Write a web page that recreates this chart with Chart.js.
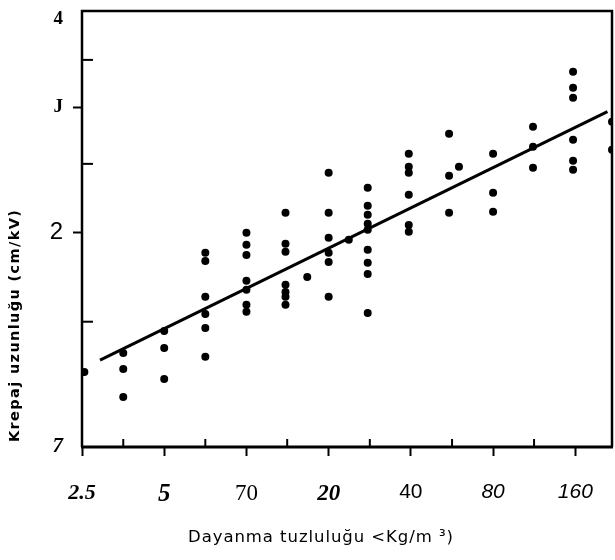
<!DOCTYPE html>
<html><head><meta charset="utf-8">
<script src="https://cdn.jsdelivr.net/npm/chart.js@4"></script>
<style>html,body{margin:0;padding:0;background:#fff}#wrap{width:615px;height:560px}</style>
</head><body><div id="wrap"><canvas id="c" width="615" height="560"></canvas></div>
<script>
// ---- data (log-log axes) ----
const pointX = [
  2.55,
  3.54, 3.54, 3.54,
  5, 5, 5,
  7.07, 7.07, 7.07, 7.07, 7.07, 7.07,
  10, 10, 10, 10, 10, 10, 10,
  13.9, 13.9, 13.9, 13.9, 13.9, 13.9, 13.9,
  16.7,
  20, 20, 20, 20, 20, 20,
  23.7,
  27.8, 27.8, 27.8, 27.8, 27.8, 27.8, 27.8, 27.8, 27.8,
  39.3, 39.3, 39.3, 39.3, 39.3, 39.3,
  55.2, 55.2, 55.2,
  60,
  80, 80, 80,
  112, 112, 112,
  157, 157, 157, 157, 157, 157,
  218, 218
];
const pointY = [
  1.275,
  1.356, 1.287, 1.176,
  1.456, 1.378, 1.246,
  1.875, 1.826, 1.626, 1.538, 1.470, 1.339,
  2.0, 1.924, 1.862, 1.712, 1.663, 1.584, 1.549,
  2.134, 1.93, 1.881, 1.69, 1.652, 1.626, 1.584,
  1.734,
  2.429, 2.134, 1.968, 1.875, 1.82, 1.626,
  1.955,
  2.314, 2.183, 2.12, 2.059, 2.02, 1.893, 1.815, 1.751, 1.543,
  2.583, 2.477, 2.429, 2.262, 2.052, 2.007,
  2.756, 2.406, 2.134,
  2.477,
  2.583, 2.277, 2.141,
  2.819, 2.642, 2.469,
  3.369, 3.199, 3.097, 2.703, 2.525, 2.452,
  2.865, 2.617
];
const fitX = [2.91, 209.8];
const fitY = [1.325, 2.96];

const xTickValues = [2.5, 5, 10, 20, 40, 80, 160];
const xTickLabels = ['2.5', '5', '70', '20', '40', '80', '160'];
const xMinorTicks = [3.54, 7.07, 14.1, 28.3, 56.6, 113];
const yTickValues = [1, 2, 3, 4];
const yTickLabels = ['7', '2', 'J', '4'];
const yMinorTicks = [1.5, 2.5, 3.5];
const xTitle = 'Dayanma tuzluluğu <Kg/m ³)';
const yTitle = 'Krepaj uzunluğu (cm/kV)';

// ---- styles ----
const xFonts = [
  {family: 'Liberation Serif', size: 22, style: 'italic', weight: 'bold'},
  {family: 'Liberation Serif', size: 25, style: 'italic', weight: 'bold'},
  {family: 'Liberation Serif', size: 23},
  {family: 'Liberation Serif', size: 23, style: 'italic', weight: 'bold'},
  {family: 'Liberation Sans', size: 21},
  {family: 'Liberation Sans', size: 21, style: 'italic'},
  {family: 'Liberation Sans', size: 21, style: 'italic'}
];
const yFonts = [
  {family: 'Liberation Serif', size: 21, style: 'italic', weight: 'bold'},
  {family: 'Liberation Sans', size: 24},
  {family: 'Liberation Serif', size: 19, weight: 'bold'},
  {family: 'Liberation Serif', size: 19, weight: 'bold'}
];

const framePlugin = {
  id: 'frame',
  afterDraw(chart) {
    const {ctx, chartArea: a, scales} = chart;
    ctx.save();
    ctx.strokeStyle = '#000';
    // minor inward ticks
    ctx.lineWidth = 2;
    xMinorTicks.forEach(v => {
      const px = scales.x.getPixelForValue(v);
      ctx.beginPath(); ctx.moveTo(px, a.bottom); ctx.lineTo(px, a.bottom - 8); ctx.stroke();
    });
    yMinorTicks.forEach(v => {
      const py = scales.y.getPixelForValue(v);
      ctx.beginPath(); ctx.moveTo(a.left, py); ctx.lineTo(a.left + 11, py); ctx.stroke();
    });
    // frame
    ctx.lineWidth = 2.5;
    ctx.beginPath();
    ctx.moveTo(a.left, a.bottom); ctx.lineTo(a.left, a.top);
    ctx.lineTo(a.right, a.top); ctx.lineTo(a.right, a.bottom);
    ctx.stroke();
    ctx.lineWidth = 3;
    ctx.beginPath(); ctx.moveTo(a.left - 1, a.bottom); ctx.lineTo(a.right + 1, a.bottom); ctx.stroke();

    // axis titles
    ctx.fillStyle = '#000';
    ctx.textBaseline = 'middle';
    ctx.textAlign = 'left';
    // y title
    ctx.save();
    ctx.translate(15, 326);
    ctx.rotate(-Math.PI / 2);
    ctx.font = 'bold 14.5px "DejaVu Sans"';
    ctx.letterSpacing = '0px';
    let w0 = ctx.measureText(yTitle).width;
    let n = [...yTitle].length;
    ctx.letterSpacing = Math.max(0, (232 - w0) / (n - 1)).toFixed(2) + 'px';
    ctx.fillText(yTitle, -116, 0);
    ctx.restore();
    // x title
    ctx.font = '16.5px "DejaVu Sans"';
    ctx.letterSpacing = '0px';
    w0 = ctx.measureText(xTitle).width;
    n = [...xTitle].length;
    ctx.letterSpacing = Math.max(0, (265 - w0) / (n - 1)).toFixed(2) + 'px';
    ctx.fillText(xTitle, 188, 538);
    ctx.restore();
  }
};

new Chart(document.getElementById('c'), {
  data: {
    datasets: [
      {
        type: 'scatter',
        data: pointX.map((x, i) => ({x: x, y: pointY[i]})),
        backgroundColor: '#000',
        borderWidth: 0,
        pointRadius: 4,
        clip: 0
      },
      {
        type: 'line',
        data: fitX.map((x, i) => ({x: x, y: fitY[i]})),
        borderColor: '#000',
        borderWidth: 3,
        pointRadius: 0,
        fill: false
      }
    ]
  },
  options: {
    responsive: false,
    devicePixelRatio: 1,
    animation: false,
    layout: {autoPadding: false, padding: {top: 11, right: 3, left: 0, bottom: 0}},
    plugins: {legend: {display: false}, tooltip: {enabled: false}},
    scales: {
      x: {
        type: 'logarithmic',
        min: 2.5, max: 218,
        afterBuildTicks: s => { s.ticks = xTickValues.map(v => ({value: v})); },
        afterFit: s => { s.height = 113; s.paddingLeft = 0; s.paddingRight = 0; },
        border: {display: false},
        grid: {drawOnChartArea: false, drawTicks: true, tickLength: 9, tickWidth: 2, tickColor: '#000'},
        ticks: {
          autoSkip: false, maxRotation: 0, color: '#000', padding: 24,
          callback: (v, i) => xTickLabels[i],
          font: c => xFonts[c.index]
        }
      },
      y: {
        type: 'logarithmic',
        min: 1, max: 4.1,
        afterBuildTicks: s => { s.ticks = yTickValues.map(v => ({value: v})); },
        afterFit: s => { s.width = 82; s.paddingTop = 0; s.paddingBottom = 0; },
        border: {display: false},
        grid: {
          drawOnChartArea: false, drawTicks: true, tickLength: 9, tickWidth: 2,
          tickColor: c => (c.tick && (c.tick.value === 2 || c.tick.value === 3)) ? '#000' : 'rgba(0,0,0,0)'
        },
        ticks: {
          autoSkip: false, color: '#000', padding: 10,
          callback: (v, i) => yTickLabels[i],
          font: c => yFonts[c.index]
        }
      }
    }
  },
  plugins: [framePlugin]
});
</script>
</body></html>
